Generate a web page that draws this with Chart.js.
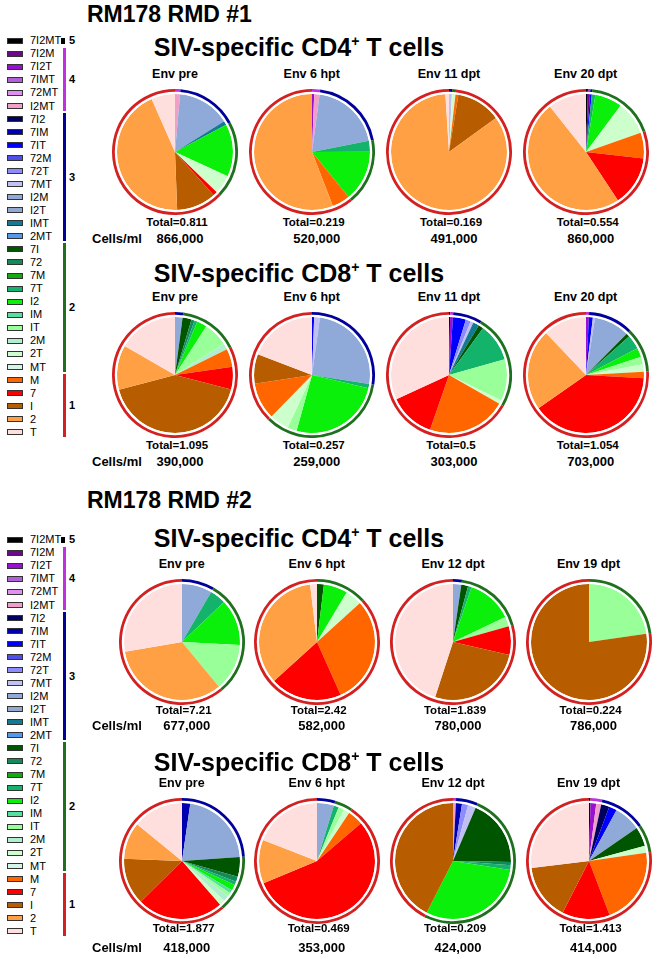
<!DOCTYPE html>
<html>
<head>
<meta charset="utf-8">
<script src="https://cdn.jsdelivr.net/npm/chart.js@4.4.1/dist/chart.umd.min.js"></script>
<style>
body{margin:0;background:#fff;font-family:"Liberation Sans",Arial,sans-serif}
#page{position:relative;width:659px;height:959px;overflow:hidden;background:#fff}
.t{position:absolute;white-space:nowrap;color:#000}
.pie{position:absolute}
.sw{position:absolute;width:14px;height:4px;border:1px solid #333}
.gbar{position:absolute;width:3px}
</style>
</head>
<body>
<div id="page"></div>
<script>
// categories in legend order (top to bottom = clockwise from 12 o'clock)
const categories = ["7I2MT","7I2M","7I2T","7IMT","72MT","I2MT",
  "7I2","7IM","7IT","72M","72T","7MT","I2M","I2T","IMT","2MT",
  "7I","72","7M","7T","I2","IM","IT","2M","2T","MT",
  "M","7","I","2","T"]
const groups = [5, 4,4,4,4,4, 3,3,3,3,3,3,3,3,3,3, 2,2,2,2,2,2,2,2,2,2, 1,1,1,1,1]
const sliceColors = ["#000000","#6a0a8a","#9a10d0","#b060d8","#e090f0","#f0a0c8",
  "#00005e","#0000b0","#0000ff","#5050e8","#8c8cff","#c0c0f5","#8faad8","#94a8d0","#137a92","#5599ee",
  "#005500","#148a5a","#11aa11","#13b36b","#0af00a","#55e0a0","#99ff99","#b0eed0","#ccffcc","#d5f5ea",
  "#ff6600","#ff0000","#b85c00","#ffa045","#ffdede"]
const groupColors = {5:"#000000", 4:"#c030e0", 3:"#00009a", 2:"#1e701e", 1:"#d42020"}
const groupNames = ["5","4","3","2","1"]

// RM178 RMD #1, CD4 (percent of each pie)
const r1cd4Times = ["Env pre","Env 6 hpt","Env 11 dpt","Env 20 dpt"]
const r1cd4Totals = ["0.811","0.219","0.169","0.554"]
const r1cd4Cells = ["866,000","520,000","491,000","860,000"]
const r1cd4Pre = [0, 0,0,0,0,1.4, 0,0,0,0,0,0,14.7,0,1.1,0, 0,0,0,0,14.7,0,0,0,5.3,0, 0,1.2,11,44,6.6]
const r1cd4H6 = [0, 0,0.6,0,0,1.5, 0,0,0,0,0,0,19.8,0,0,0, 0,0,0,3,14.2,0,0,0,0,0, 5,0,0,55.8,0]
const r1cd4D11 = [0, 0,0,0,0,0, 0,0,0,0,0,0.8,0,0,0,0, 0,0,0,0,0,0,0,0,1.0,0, 0.8,0,12.4,84.0,1.0]
const r1cd4D20 = [0.5, 0.6,0,0,0,0, 0,0,0.5,0,0,0,0,0,0,0, 0,0,0,1,7.6,0,0,0,9.4,0, 7.2,13.9,0,48.6,10.7]

// RM178 RMD #1, CD8
const r1cd8Times = ["Env pre","Env 6 hpt","Env 11 dpt","Env 20 dpt"]
const r1cd8Totals = ["1.095","0.257","0.5","1.054"]
const r1cd8Cells = ["390,000","259,000","303,000","703,000"]
const r1cd8Pre = [0, 0,0,0,0,0, 0,0,0,0,0,0,2.1,0,0,0, 2.5,0.9,0,0.8,2.8,0,6.9,1.7,0,0, 5,6.3,41.9,12.4,16.7]
const r1cd8H6 = [0, 0,0,0,0,0, 0,0,0.6,0,0,1.6,25.3,0,0,0, 0,0,0,1.2,25.6,0,2.6,0,5.4,0, 10.3,0,8.2,0,19.2]
const r1cd8D11 = [0.3, 0,0.8,0,0,0, 0,0,3.6,0,1.4,0.8,0,0,1.7,0, 1.4,0,0,10.6,0,0,11.5,0,1.1,0, 22,12.8,0,0,31.8]
const r1cd8D20 = [0, 0,0.8,0,0,0, 0,0,1.1,0,0,0.6,9.9,0,0,0, 1,0,0,4,2.5,0,2.1,0,2.1,0, 1.8,39.4,0,22.6,12.1]

// RM178 RMD #2, CD4
const r2cd4Times = ["Env pre","Env 6 hpt","Env 12 dpt","Env 19 dpt"]
const r2cd4Totals = ["7.21","2.42","1.839","0.224"]
const r2cd4Cells = ["677,000","582,000","780,000","786,000"]
const r2cd4Pre = [0, 0,0,0,0,0, 0,0,0,0,0,0,8.4,0,0,0, 0,0,0,4.5,12.9,0,13.2,0,0,0, 0,0,0,33.3,27.7]
const r2cd4H6 = [0, 0,0,0,0,0, 0,0,0,0,0,0,0,0,0,0, 1.9,0,0,0,6.7,0,0,0,4.7,0, 30,20,0,34.8,1.9]
const r2cd4D12 = [0, 0,0,0,0,0, 0,0,0,0,0,0,2.3,0,0,0, 1.9,0,0,1,12.7,0,2.7,0,0,0, 0,8,26.4,0,45]
const r2cd4D19 = [0, 0,0,0,0,0, 0,0,0,0,0,0,0,0,0,0, 0,0,0,0,0,0,22.7,0,0,0, 0,0,77.3,0,0]

// RM178 RMD #2, CD8
const r2cd8Times = ["Env pre","Env 6 hpt","Env 12 dpt","Env 19 dpt"]
const r2cd8Totals = ["1.877","0.469","0.209","1.413"]
const r2cd8Cells = ["418,000","353,000","424,000","414,000"]
const r2cd8Pre = [0, 0,0,0,0,0, 0,2.3,0,0,0,0,21.6,0,0,0, 5.5,1.4,0,1,1.6,1,1,1.6,1.6,0, 0,24,13,10.3,14.1]
const r2cd8H6 = [0, 0,0,0,0,0, 0,0,0,0,0,0,4.7,0,0,0, 0,0,0,1.4,0,0,1.6,0,1.7,0, 4.3,55,0,12.2,19.1]
const r2cd8D12 = [0, 0,0,0,0,0.8, 0,1.7,0,0,1.7,2.2,0,0,0,0, 18.9,0.9,0,1.3,30,0,0,0,0,0, 0,0,42.5,0,0]
const r2cd8D19 = [0.4, 0,1.6,0,0,1.4, 2.3,0,2.2,0,0,0,7.5,0,0,0, 5.4,0,0,0,0,0,0,0,1.9,0, 21.5,13.3,15.6,0,26.9]

const page = document.getElementById("page")

function txt(s, x, base, size, bold, center) {
  const d = document.createElement("div")
  d.className = "t"
  d.style.fontSize = size + "px"
  d.style.lineHeight = size + "px"
  d.style.fontWeight = bold ? "bold" : "normal"
  d.style.top = (base - 0.8465 * size) + "px"
  d.style.left = x + "px"
  if (center) d.style.transform = "translateX(-50%)"
  d.innerHTML = s
  page.appendChild(d)
}

function drawPie(cx, cy, values) {
  const c = document.createElement("canvas")
  c.width = 126
  c.height = 126
  c.className = "pie"
  c.style.left = (cx - 63) + "px"
  c.style.top = (cy - 63) + "px"
  page.appendChild(c)
  // outer ring: one arc per group, same order as the slices
  const ringGroups = [5, 4, 3, 2, 1]
  const ring = ringGroups.map(g => values.reduce((s, v, i) => groups[i] === g ? s + v : s, 0))
  new Chart(c, {
    type: "pie",
    data: {
      labels: categories,
      datasets: [
        {data: ring, backgroundColor: ringGroups.map(g => groupColors[g]), weight: 2.8, borderWidth: 0},
        {data: [1], backgroundColor: ["#ffffff"], weight: 2.2, borderWidth: 0},
        {data: values, backgroundColor: sliceColors, weight: 58, borderWidth: 0}
      ]
    },
    options: {
      responsive: false,
      animation: false,
      events: [],
      layout: {padding: 0},
      plugins: {legend: {display: false}, tooltip: {enabled: false}}
    }
  })
}

function legend(top) {
  const step = 13.05
  categories.forEach((cat, i) => {
    const y = top + i * step
    const s = document.createElement("div")
    s.className = "sw"
    s.style.left = "7px"
    s.style.top = (y - 3) + "px"
    s.style.background = sliceColors[i]
    page.appendChild(s)
    txt(cat, 30, y + 4, 11, false, false)
  })
  groupNames.forEach(g => {
    const idx = groups.map((v, i) => v === +g ? i : -1).filter(i => i >= 0)
    const y0 = top + idx[0] * step - (g === "5" ? 3 : 6)
    const y1 = top + idx[idx.length - 1] * step + (g === "5" ? 3 : 5)
    const b = document.createElement("div")
    b.className = "gbar"
    b.style.left = (g === "5" ? 61 : 63) + "px"
    b.style.width = (g === "5" ? 4 : 3) + "px"
    b.style.top = y0 + "px"
    b.style.height = (y1 - y0) + "px"
    b.style.background = groupColors[g]
    page.appendChild(b)
    txt(g, 69, (y0 + y1) / 2 + 4, 11, true, false)
  })
}

function panel(title, xs, L, times, totals, cells, sets) {
  txt(title, 299, L.title, 25, true, true)
  xs.forEach((x, k) => {
    txt(times[k], x, L.sub, 12.5, true, true)
    drawPie(x, L.cy, sets[k])
    txt("Total=" + totals[k], x + 2, L.total, 11.5, true, true)
    txt(cells[k], x + 5, L.cells, 13, true, true)
  })
  txt("Cells/ml", 92, L.cells, 13, true, false)
}

const cd4Title = 'SIV-specific CD4<span style="font-size:14px;position:relative;top:-10px">+</span> T cells'
const cd8Title = 'SIV-specific CD8<span style="font-size:14px;position:relative;top:-10px">+</span> T cells'

const xs1 = [175, 311.7, 449, 585.7]
const xs2 = [181.7, 316.7, 453, 588.5]

txt("RM178 RMD #1", 87, 22, 23, true, false)
legend(40.6)
panel(cd4Title, xs1, {title: 56, sub: 79, cy: 151.7, total: 227, cells: 243},
  r1cd4Times, r1cd4Totals, r1cd4Cells, [r1cd4Pre, r1cd4H6, r1cd4D11, r1cd4D20])
panel(cd8Title, xs1, {title: 282, sub: 302, cy: 375, total: 450, cells: 466},
  r1cd8Times, r1cd8Totals, r1cd8Cells, [r1cd8Pre, r1cd8H6, r1cd8D11, r1cd8D20])

txt("RM178 RMD #2", 87, 508, 23, true, false)
legend(539.6)
panel(cd4Title, xs2, {title: 547, sub: 569, cy: 641.7, total: 715, cells: 730},
  r2cd4Times, r2cd4Totals, r2cd4Cells, [r2cd4Pre, r2cd4H6, r2cd4D12, r2cd4D19])
panel(cd8Title, xs2, {title: 771, sub: 788, cy: 860.7, total: 933, cells: 952},
  r2cd8Times, r2cd8Totals, r2cd8Cells, [r2cd8Pre, r2cd8H6, r2cd8D12, r2cd8D19])
</script>
</body>
</html>
